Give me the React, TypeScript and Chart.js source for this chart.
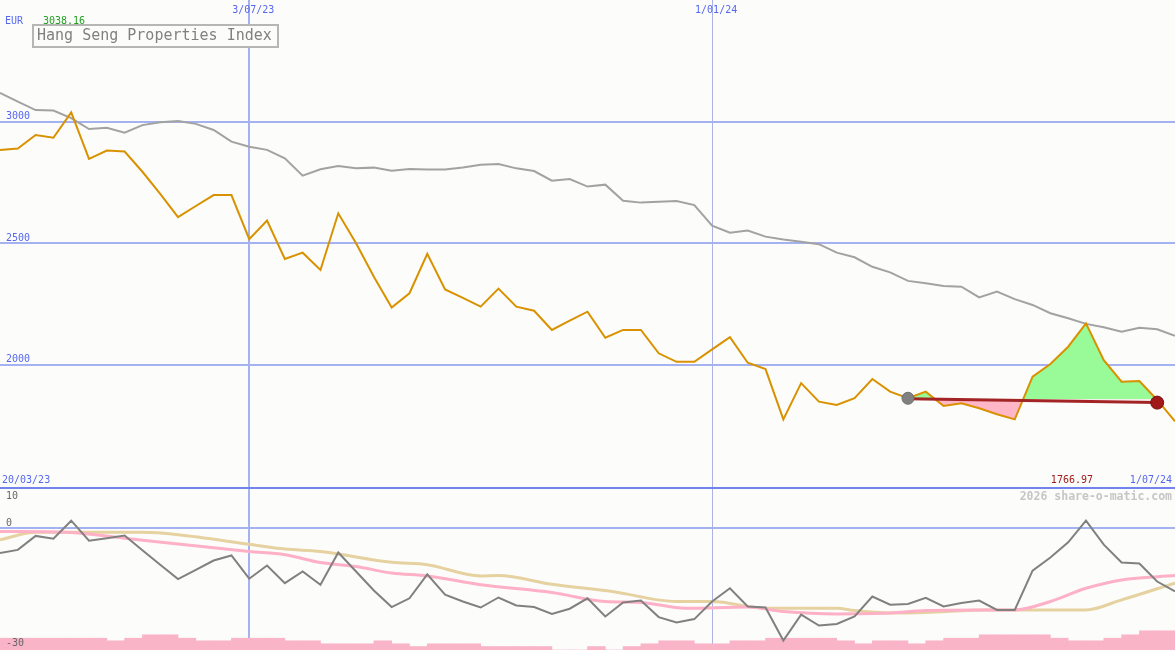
import React, { useEffect, useRef } from 'react';
import { Chart, registerables } from 'chart.js';
Chart.register(...registerables);

// Weekly closes (week 0 = 27/03/23 ... week 66 = 1/07/24)
const price = [2884, 2890, 2945, 2934, 3038.16, 2847, 2881, 2877, 2794, 2703,
  2607, 2653, 2698, 2698, 2517, 2593, 2435, 2461, 2390, 2623,
  2500, 2362, 2235, 2294, 2456, 2310, 2275, 2239, 2313, 2239,
  2222, 2143, 2181, 2218, 2111, 2143, 2143, 2047, 2012, 2012,
  2063, 2113, 2008, 1982, 1775, 1924, 1848, 1834, 1862, 1941,
  1889, 1862, 1889, 1830, 1841, 1821, 1796, 1775, 1951, 2003,
  2074, 2170, 2019, 1930, 1933, 1855, 1766.97];

const movingAvg = [3119, 3083, 3048, 3046, 3015, 2970, 2975, 2955, 2986, 2998,
  3003, 2991, 2966, 2918, 2897, 2884, 2849, 2778, 2804, 2818,
  2808, 2811, 2798, 2805, 2803, 2803, 2812, 2823, 2826, 2808,
  2797, 2757, 2764, 2733, 2741, 2675, 2667, 2671, 2674, 2657,
  2572, 2543, 2552, 2527, 2515, 2506, 2496, 2461, 2442, 2403,
  2380, 2345, 2335, 2324, 2321, 2277, 2301, 2270, 2246, 2212,
  2191, 2168, 2154, 2136, 2152, 2146, 2119];

const oscillator = [-6.4, -5.6, -2.1, -2.8, 1.7, -3.3, -2.7, -2.0, -5.7, -9.3,
  -12.9, -10.6, -8.25, -7.0, -12.8, -9.5, -13.9, -11, -14.3, -6.25,
  -11, -15.75, -19.9, -17.7, -11.7, -16.8, -18.5, -20, -17.5, -19.5,
  -19.9, -21.6, -20.3, -17.7, -22.25, -18.75, -18.25, -22.4, -23.75, -22.9,
  -18.5, -15.2, -19.75, -20, -28.25, -21.8, -24.5, -24.1, -22.25, -17.25,
  -19.3, -19.1, -17.6, -19.75, -18.9, -18.25, -20.6, -20.6, -10.8, -7.5,
  -3.7, 1.7, -4.3, -8.75, -9, -13.5, -16];

const pinkWeeks = [0, 4, 7, 10, 14, 16, 18, 20, 22, 24, 27, 31, 34, 36, 38.5, 42, 44, 47, 50, 52, 55, 57, 59, 61, 63, 66];
const pinkValues = [-1.0, -1.25, -2.7, -4.1, -6.0, -6.8, -8.75, -9.75, -11.4, -12.1, -14.3, -16.25, -18.5, -18.75, -20.2, -19.9, -21, -21.6, -21.4, -20.75, -20.6, -20.6, -18.5, -15.2, -13.1, -12];

const tanWeeks = [0, 2, 8, 10, 14, 16, 18, 22, 24, 27, 28, 31, 34.4, 38, 40, 43, 47, 48, 50.4, 52, 55.5, 57, 61, 63, 66];
const tanValues = [-3.1, -1.2, -1.2, -1.8, -4.2, -5.4, -6.0, -8.7, -9.3, -12.1, -12, -14.2, -16, -18.5, -18.5, -20.2, -20.2, -20.75, -21.4, -21.25, -20.6, -20.6, -20.6, -18.1, -13.9];

// bottom histogram, one bar per week (weeks 0..65)
const volumeBars = [2.95, 2.95, 2.95, 2.95, 2.95, 2.95, 2.3, 2.95, 3.8, 3.8,
  2.95, 2.3, 2.3, 2.95, 2.95, 2.95, 2.3, 2.3, 1.55, 1.55,
  1.55, 2.3, 1.55, 0.875, 1.55, 1.55, 1.55, 0.875, 0.875, 0.875,
  0.875, 0, 0, 0.875, 0, 0.875, 1.55, 2.3, 2.3, 1.55,
  1.55, 2.3, 2.3, 2.95, 2.95, 2.95, 2.95, 2.3, 1.55, 2.3,
  2.3, 1.55, 2.3, 2.95, 2.95, 3.8, 3.8, 3.8, 3.8, 2.95,
  2.3, 2.3, 2.95, 3.8, 4.8, 4.8];

const startWeek = 51;
const endWeek = 65;
const fillBase = 1858;
const refLineWeeks = [51, 65];
const refLineValues = [1860, 1844];

const priceTicks = [2000, 2500, 3000];
const oscTicks = [10, 0, -30];
const dateWeeks = [14, 40];
const dateLabels = ['3/07/23', '1/01/24'];

const title = 'Hang Seng Properties Index';
const currency = 'EUR';
const maxLabel = '3038.16';
const lastLabel = '1766.97';
const startDateLabel = '20/03/23';
const endDateLabel = '1/07/24';
const credit = '2026 share-o-matic.com';

const BG = '#fcfdfa';
const GRID = '#a4b2f2';
const BLUE_TXT = '#5567ee';
const MONO = '"DejaVu Sans Mono", monospace';

const overlay = {
  id: 'overlay',
  beforeDraw(chart: any) {
    const { ctx } = chart;
    ctx.save();
    ctx.fillStyle = BG;
    ctx.fillRect(0, 0, chart.width, chart.height);
    ctx.restore();
  },
  beforeDatasetsDraw(chart: any) {
    const { ctx, scales } = chart;
    const { x, y, y2 } = scales;
    const W = chart.width, H = chart.height;
    ctx.save();
    ctx.lineWidth = 2;
    ctx.strokeStyle = GRID;
    priceTicks.forEach((v) => {
      const py = Math.round(y.getPixelForValue(v));
      ctx.beginPath(); ctx.moveTo(0, py); ctx.lineTo(W, py); ctx.stroke();
    });
    const p0 = Math.round(y2.getPixelForValue(0));
    ctx.beginPath(); ctx.moveTo(0, p0); ctx.lineTo(W, p0); ctx.stroke();
    // date lines
    dateWeeks.forEach((w, i) => {
      const px = x.getPixelForValue(w);
      ctx.lineWidth = i === 0 ? 2 : 1;
      ctx.strokeStyle = i === 0 ? GRID : '#aab2e6';
      const xx = i === 0 ? Math.round(px) : Math.round(px) + 0.5;
      ctx.beginPath(); ctx.moveTo(xx, 0); ctx.lineTo(xx, H); ctx.stroke();
    });
    // separator between panels
    const sep = Math.round(y2.getPixelForValue(10));
    ctx.lineWidth = 2;
    ctx.strokeStyle = '#7282ee';
    ctx.beginPath(); ctx.moveTo(0, sep); ctx.lineTo(W, sep); ctx.stroke();
    ctx.restore();
  },
  afterDatasetsDraw(chart: any) {
    const { ctx, scales } = chart;
    const { x, y, y2 } = scales;
    ctx.save();
    ctx.font = `10px ${MONO}`;
    ctx.textBaseline = 'alphabetic';
    // price tick labels
    ctx.fillStyle = BLUE_TXT;
    ctx.textAlign = 'left';
    priceTicks.forEach((v) => {
      ctx.fillText(String(v), 6, y.getPixelForValue(v) - 2.5);
    });
    // oscillator labels
    ctx.fillStyle = '#666666';
    oscTicks.forEach((v) => {
      const py = y2.getPixelForValue(v);
      const yy = v === oscTicks[0] ? py + 11.5 : Math.min(py - 2, 646);
      ctx.fillText(String(v), 6, yy);
    });
    // date labels on top
    ctx.fillStyle = BLUE_TXT;
    ctx.textAlign = 'center';
    dateWeeks.forEach((w, i) => {
      ctx.fillText(dateLabels[i], x.getPixelForValue(w) + 4, 12.5);
    });
    // currency + max
    ctx.textAlign = 'left';
    ctx.fillText(currency, 5, 24);
    ctx.fillStyle = '#22a022';
    ctx.fillText(maxLabel, 43, 24);
    // bottom labels of main panel
    const by = y2.getPixelForValue(10) - 4.5;
    ctx.fillStyle = BLUE_TXT;
    ctx.fillText(startDateLabel, 2, by);
    ctx.textAlign = 'right';
    ctx.fillText(endDateLabel, 1172, by);
    ctx.fillStyle = '#a01c1c';
    ctx.fillText(lastLabel, 1093, by);
    // credit
    ctx.font = `bold 11.5px ${MONO}`;
    ctx.fillStyle = '#c6c6c6';
    ctx.fillText(credit, 1172, 500);
    // legend box
    ctx.fillStyle = BG;
    ctx.fillRect(33, 25, 245, 22);
    ctx.lineWidth = 2;
    ctx.strokeStyle = '#b6b6b6';
    ctx.strokeRect(33, 25, 245, 22);
    ctx.font = `15px ${MONO}`;
    ctx.fillStyle = '#808080';
    ctx.textAlign = 'left';
    ctx.textBaseline = 'middle';
    ctx.fillText(title, 37, 36.5);
    ctx.restore();
  },
};

export default function App() {
  const ref = useRef<HTMLCanvasElement | null>(null);
  useEffect(() => {
    if (!ref.current) return;
    const pts = (arr: number[]) => arr.map((v, i) => ({ x: i, y: v }));
    const chart = new Chart(ref.current, {
      type: 'line',
      data: {
        datasets: [
          {
            type: 'scatter' as any,
            data: [{ x: endWeek, y: refLineValues[1] }],
            yAxisID: 'y',
            pointRadius: 6.5,
            backgroundColor: '#a01818',
            borderColor: '#7a1010',
            borderWidth: 1,
            showLine: false,
            clip: false,
            order: 0,
          },
          {
            type: 'scatter' as any,
            data: [{ x: startWeek, y: price[startWeek] }],
            yAxisID: 'y',
            pointRadius: 6,
            backgroundColor: '#808080',
            borderColor: '#707070',
            borderWidth: 1,
            showLine: false,
            clip: false,
            order: 1,
          },
          {
            data: refLineWeeks.map((w, i) => ({ x: w, y: refLineValues[i] })),
            yAxisID: 'y',
            borderColor: '#a32424',
            borderWidth: 3,
            pointRadius: 0,
            fill: false,
            order: 2,
          },
          {
            data: pts(price),
            yAxisID: 'y',
            borderColor: '#d99100',
            borderWidth: 2,
            pointRadius: 0,
            fill: false,
            order: 3,
          },
          {
            data: pts(movingAvg),
            yAxisID: 'y',
            borderColor: '#a2a2a2',
            borderWidth: 2,
            pointRadius: 0,
            fill: false,
            order: 4,
          },
          {
            data: pts(price).slice(startWeek, endWeek + 1),
            yAxisID: 'y',
            borderWidth: 0,
            borderColor: 'rgba(0,0,0,0)',
            pointRadius: 0,
            fill: { target: { value: fillBase }, above: '#98fb98', below: '#ffb6c6' } as any,
            order: 5,
          },
          {
            data: pts(oscillator),
            yAxisID: 'y2',
            borderColor: '#808080',
            borderWidth: 2,
            pointRadius: 0,
            fill: false,
            order: 6,
          },
          {
            data: pinkWeeks.map((w, i) => ({ x: w, y: pinkValues[i] })),
            yAxisID: 'y2',
            borderColor: '#fdb0c6',
            borderWidth: 3,
            pointRadius: 0,
            cubicInterpolationMode: 'monotone',
            fill: false,
            order: 7,
          },
          {
            data: tanWeeks.map((w, i) => ({ x: w, y: tanValues[i] })),
            yAxisID: 'y2',
            borderColor: '#e6d1a0',
            borderWidth: 3,
            pointRadius: 0,
            cubicInterpolationMode: 'monotone',
            fill: false,
            order: 8,
          },
          {
            type: 'bar' as any,
            data: volumeBars.map((v, i) => ({ x: i + 0.5, y: v })),
            yAxisID: 'y3',
            backgroundColor: '#f9b4c8',
            borderWidth: 0,
            barPercentage: 1,
            categoryPercentage: 1,
            order: 9,
          },
        ] as any,
      },
      options: {
        responsive: false,
        animation: false,
        devicePixelRatio: 1,
        layout: { padding: 0, autoPadding: false },
        plugins: {
          legend: { display: false },
          tooltip: { enabled: false },
          title: { display: false },
        },
        events: [],
        scales: {
          x: { type: 'linear', min: 0, max: 66, display: false, offset: false, grid: { offset: false } },
          y: { type: 'linear', min: 826, max: 3500.8, display: false },
          y2: { type: 'linear', min: -30.625, max: 131.875, display: false },
          y3: { type: 'linear', min: 0, max: 162.5, display: false },
        },
      } as any,
      plugins: [overlay],
    });
    return () => chart.destroy();
  }, []);
  return (
    <div style={{ position: 'fixed', left: 0, top: 0, width: 1175, height: 650, background: BG }}>
      <canvas ref={ref} width={1175} height={650} style={{ display: 'block' }} />
    </div>
  );
}
